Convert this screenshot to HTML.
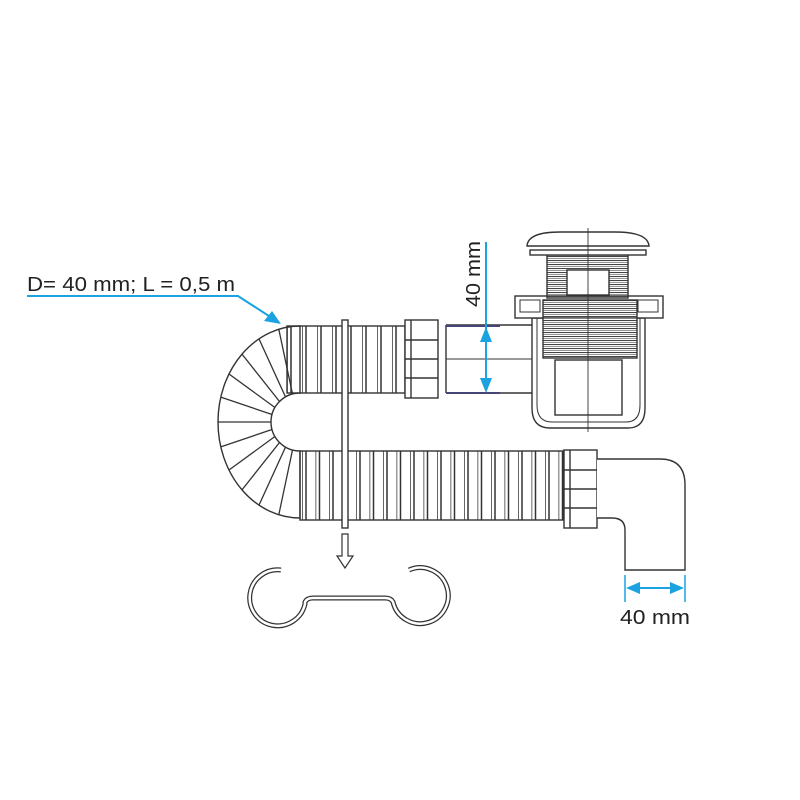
<!DOCTYPE html>
<html><head><style>html,body{margin:0;padding:0;background:#fff}svg{display:block}</style></head>
<body>
<svg width="800" height="800" viewBox="0 0 800 800" xmlns="http://www.w3.org/2000/svg">
<defs>
<pattern id="rib1" x="287" y="0" width="15" height="10" patternUnits="userSpaceOnUse">
<line x1="0" y1="0" x2="0" y2="10" stroke="#333" stroke-width="1.5"/>
<line x1="4" y1="0" x2="4" y2="10" stroke="#333" stroke-width="1.5"/>
</pattern>
<pattern id="rib2" x="302" y="0" width="13.5" height="10" patternUnits="userSpaceOnUse">
<line x1="0" y1="0" x2="0" y2="10" stroke="#333" stroke-width="1.5"/>
<line x1="4" y1="0" x2="4" y2="10" stroke="#333" stroke-width="1.5"/>
</pattern>
<pattern id="thr" x="0" y="0" width="10" height="4" patternUnits="userSpaceOnUse">
<line x1="0" y1="0.5" x2="10" y2="0.5" stroke="#444" stroke-width="1.1"/>
<line x1="0" y1="2.5" x2="10" y2="2.5" stroke="#888" stroke-width="0.9"/>
</pattern>
</defs>
<g fill="none" stroke="#333" stroke-width="1.4">
<path d="M300,326 A82,96 0 0 0 300,518 L300,451 A29,29 0 0 1 300,393 Z" fill="#fff"/>
<g stroke-width="1.3">
<line x1="278.8" y1="329.3" x2="292.5" y2="394"/>
<line x1="259" y1="338.9" x2="285.5" y2="396.9"/>
<line x1="242" y1="354.1" x2="279.5" y2="401.5"/>
<line x1="229" y1="374" x2="274.9" y2="407.5"/>
<line x1="220.8" y1="397.1" x2="272" y2="414.5"/>
<line x1="218" y1="422" x2="271" y2="422"/>
<line x1="220.8" y1="446.9" x2="272" y2="429.5"/>
<line x1="229" y1="470" x2="274.9" y2="436.5"/>
<line x1="242" y1="489.9" x2="279.5" y2="442.5"/>
<line x1="259" y1="505.1" x2="285.5" y2="447.1"/>
<line x1="278.8" y1="514.7" x2="292.5" y2="450"/>
</g>
<rect x="287" y="326" width="118" height="67" fill="url(#rib1)"/>
<rect x="300" y="451" width="263" height="69" fill="url(#rib2)"/>
<rect x="405" y="320" width="33" height="78" fill="#fff"/>
<line x1="411" y1="320" x2="411" y2="398"/>
<line x1="405" y1="340" x2="438" y2="340"/><line x1="405" y1="359" x2="438" y2="359"/><line x1="405" y1="378" x2="438" y2="378"/>
<rect x="564" y="450" width="33" height="78" fill="#fff"/>
<line x1="570" y1="450" x2="570" y2="528"/>
<line x1="564" y1="470" x2="597" y2="470"/><line x1="564" y1="489" x2="597" y2="489"/><line x1="564" y1="508" x2="597" y2="508"/>
<path d="M446,325 H535 M446,393 H535 M446,325 V393" />
<line x1="446" y1="359" x2="535" y2="359" stroke-width="1"/>
<line x1="446" y1="326" x2="500" y2="326" stroke="#447" stroke-width="2"/>
<line x1="446" y1="393" x2="500" y2="393" stroke="#447" stroke-width="2"/>
<path d="M597,459 H660 Q685,459 685,485 V570 H625 V530 Q625,518 612,518 H597" fill="#fff"/>
<path d="M532,318 V408 Q532,428 550,428 H628 Q645,428 645,408 V318 Z" fill="#fff"/>
<path d="M537,318 V405 Q537,422 552,422 H626 Q640,422 640,405 V318" stroke-width="1"/>
<rect x="515" y="296" width="148" height="22" fill="#fff"/>
<rect x="520" y="300" width="20" height="12" stroke-width="1"/>
<rect x="638" y="300" width="20" height="12" stroke-width="1"/>
<rect x="543" y="300" width="94" height="58" fill="url(#thr)"/>
<rect x="555" y="360" width="67" height="55" fill="#fff"/>
<rect x="547" y="255" width="81" height="43" fill="url(#thr)"/>
<rect x="567" y="270" width="42" height="25" fill="#fff"/>
<rect x="530" y="250" width="116" height="5" fill="#fff"/>
<path d="M527,246 Q528,232 560,232 H615 Q648,232 649,246 Z" fill="#fff"/>
<line x1="588" y1="228" x2="588" y2="432" stroke-width="0.9"/>
<rect x="342" y="320" width="6" height="208" fill="#fff"/>
<path d="M342,534 H348 V556 H353 L345,568 L337,556 H342 Z" fill="#fff" stroke-width="1.2"/>
<path d="M281,570 A28,28 0 1 0 305,604 L305,602 Q307,598 313,598 H385 Q391,598 393,602 A28,28 0 1 0 409,570" stroke-width="5" stroke="#333"/>
<path d="M281,570 A28,28 0 1 0 305,604 L305,602 Q307,598 313,598 H385 Q391,598 393,602 A28,28 0 1 0 409,570" stroke-width="2.5" stroke="#fff"/>
</g>
<g stroke="#1aa3e0" stroke-width="2" fill="#1aa3e0">
<line x1="486" y1="242" x2="486" y2="385"/>
<polygon points="486,327 480,342 492,342" stroke="none"/>
<polygon points="486,393 480,378 492,378" stroke="none"/>
<polyline points="27,296 238,296 272,318" fill="none"/>
<polygon points="281,324 264,321 272,311" stroke="none"/>
<line x1="625" y1="575" x2="625" y2="602" stroke-width="1.5"/>
<line x1="685" y1="575" x2="685" y2="602" stroke-width="1.5"/>
<line x1="632" y1="588" x2="678" y2="588"/>
<polygon points="626,588 640,582 640,594" stroke="none"/>
<polygon points="684,588 670,582 670,594" stroke="none"/>
</g>
<g font-family="Liberation Sans, sans-serif" fill="#222" font-size="20">
<text x="27" y="291" textLength="208" lengthAdjust="spacingAndGlyphs">D= 40 mm; L = 0,5 m</text>
<text x="620" y="624" textLength="70" lengthAdjust="spacingAndGlyphs">40 mm</text>
<text transform="translate(480,307) rotate(-90)" textLength="66" lengthAdjust="spacingAndGlyphs">40 mm</text>
</g>
</svg>
</body></html>
